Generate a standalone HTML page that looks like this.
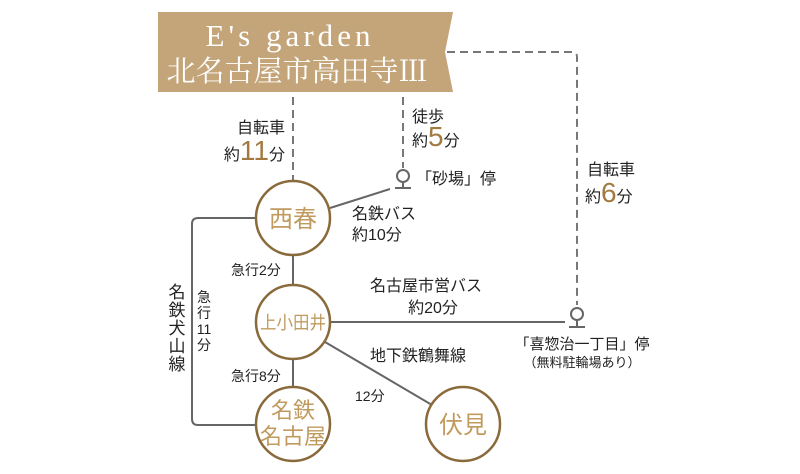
<!DOCTYPE html>
<html><head><meta charset="utf-8"><style>
html,body{margin:0;padding:0;background:#fff;}
svg{display:block;}
.t{font-family:"Liberation Sans","Noto Sans CJK JP",sans-serif;fill:#222;}
.s{font-family:"Liberation Sans","Noto Sans CJK JP",sans-serif;fill:#c09a5e;}
.n{font-family:"Liberation Sans","Noto Sans CJK JP",sans-serif;fill:#a27a40;}
</style></head><body>
<svg width="800" height="474" viewBox="0 0 800 474" xmlns="http://www.w3.org/2000/svg">
<polygon points="158,12 453,12 445,52 453,92 158,92" fill="#c4a57a"/>
<text x="288" y="46" text-anchor="middle" font-family="Liberation Serif,serif" font-size="31" fill="#fff" textLength="165" lengthAdjust="spacing">E's garden</text>
<text x="297" y="81" text-anchor="middle" font-family="Liberation Serif,'Noto Serif CJK SC',serif" font-size="29" fill="#fff">北名古屋市高田寺Ⅲ</text>
<g stroke="#777" stroke-width="2" fill="none" stroke-dasharray="8,5">
<line x1="293" y1="97" x2="293" y2="180"/>
<line x1="403" y1="97" x2="403" y2="168"/>
<path d="M447,52 H572 Q577,52 577,57 V305"/>
</g>
<g stroke="#666" stroke-width="2" fill="none">
<path d="M256,218 H198 Q192,218 192,224 V419 Q192,425 198,425 H256"/>
<line x1="330" y1="208" x2="390" y2="189"/>
<line x1="293" y1="255" x2="293" y2="285"/>
<line x1="293" y1="359" x2="293" y2="387"/>
<line x1="330" y1="322" x2="565" y2="322"/>
<line x1="325" y1="342" x2="432" y2="405"/>
<circle cx="403" cy="176" r="6"/><line x1="403" y1="182" x2="403" y2="188"/><line x1="395" y1="188" x2="411" y2="188"/>
<circle cx="577" cy="314" r="6"/><line x1="577" y1="320" x2="577" y2="327"/><line x1="569" y1="327" x2="585" y2="327"/>
</g>
<g fill="#fff" stroke="#8a6a3a" stroke-width="2.5">
<circle cx="293" cy="218" r="37"/><circle cx="293" cy="322" r="37"/><circle cx="293" cy="424" r="37"/><circle cx="463" cy="424" r="37"/>
</g>
<text class="s" x="293" y="227" text-anchor="middle" font-size="24">西春</text>
<text class="s" x="293" y="329" text-anchor="middle" font-size="18" textLength="66" lengthAdjust="spacingAndGlyphs">上小田井</text>
<text class="s" x="293" y="418" text-anchor="middle" font-size="22">名鉄</text>
<text class="s" x="293" y="444" text-anchor="middle" font-size="22">名古屋</text>
<text class="s" x="463" y="433" text-anchor="middle" font-size="24">伏見</text>
<text class="t" x="285" y="133" text-anchor="end" font-size="16">自転車</text>
<text class="t" x="285" y="160" text-anchor="end" font-size="16">約<tspan class="n" font-size="28">11</tspan>分</text>
<text class="t" x="412" y="122" font-size="16">徒歩</text>
<text class="t" x="412" y="146" font-size="16">約<tspan class="n" font-size="28">5</tspan>分</text>
<text class="t" x="416" y="184" font-size="16">「砂場」停</text>
<text class="t" x="352" y="219" font-size="16">名鉄バス</text>
<text class="t" x="352" y="240" font-size="16">約10分</text>
<text class="t" x="587" y="175" font-size="16">自転車</text>
<text class="t" x="585" y="202" font-size="16">約<tspan class="n" font-size="28">6</tspan>分</text>
<text class="t" x="231" y="275" font-size="14">急行2分</text>
<text class="t" x="231" y="381" font-size="14">急行8分</text>
<text class="t" x="426" y="291" text-anchor="middle" font-size="16">名古屋市営バス</text>
<text class="t" x="433" y="313" text-anchor="middle" font-size="16">約20分</text>
<text class="t" x="370" y="361" font-size="16">地下鉄鶴舞線</text>
<text class="t" x="355" y="401" font-size="14">12分</text>
<text class="t" x="582" y="349" text-anchor="middle" font-size="15">「喜惣治一丁目」停</text>
<text class="t" x="582" y="367" text-anchor="middle" font-size="13">（無料駐輪場あり）</text>
<g class="t" font-size="17" text-anchor="middle">
<text x="177" y="298">名</text><text x="177" y="316">鉄</text><text x="177" y="334">犬</text><text x="177" y="352">山</text><text x="177" y="370">線</text>
</g>
<g class="t" font-size="14" text-anchor="middle">
<text x="204" y="302">急</text><text x="204" y="318">行</text><text x="204" y="334">11</text><text x="204" y="350">分</text>
</g>
</svg>
</body></html>
